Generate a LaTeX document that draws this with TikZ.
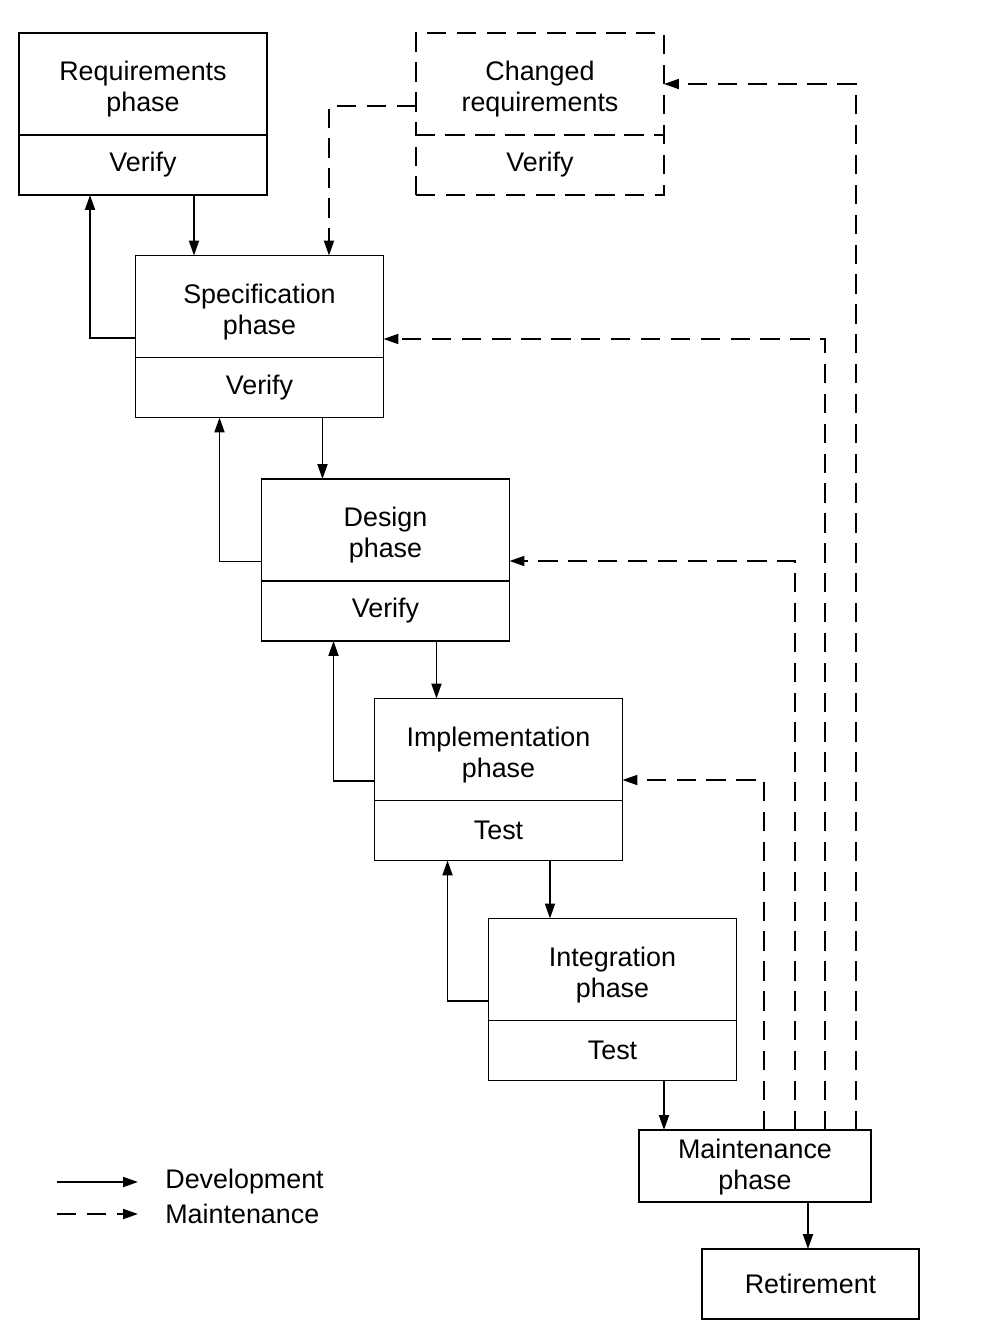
\documentclass[tikz,border=0pt]{standalone}
\usepackage{fontspec}
\setmainfont{Liberation Sans}
\usetikzlibrary{arrows.meta,positioning,calc}
% two centred lines, set a little below the middle of the box
\newcommand{\twolines}[3][-0.12cm]{\raisebox{#1}[\height][\depth]{\begin{tabular}{@{}c@{}}#2\\#3\end{tabular}}}

\begin{document}
\begin{tikzpicture}[x=0.02cm, y=-0.02cm,
  font=\fontsize{15.3pt}{17.6pt}\selectfont,
  phasebox/.style={rectangle, draw, line width=1.1pt, outer sep=0pt, minimum width=4.96cm, minimum height=2.04cm, align=center, inner sep=0pt},
  checkbox/.style={rectangle, draw, line width=1.1pt, outer sep=0pt, minimum width=4.96cm, minimum height=1.2cm, align=center, inner sep=0pt},
  changed/.style={dash pattern=on 11pt off 6pt},
  dev/.style={-{Triangle[length=0.3cm,width=0.2cm]}, line width=1.1pt},
  mnt/.style={dev, dash pattern=on 11pt off 6pt}
]
  \useasboundingbox (0,0) rectangle (1002,1323);
  % waterfall phases
  \node[phasebox] (req) at (143,84) {\twolines{Requirements}{phase}};
  \node[checkbox, below=0pt of req] (req-v) {Verify};
  \node[phasebox, changed] (chg) at (540,84) {\twolines{Changed}{requirements}};
  \node[checkbox, changed, below=0pt of chg] (chg-v) {Verify};
  \node[phasebox] (spec) at (259.5,306.5) {\twolines{Specification}{phase}};
  \node[checkbox, below=0pt of spec] (spec-v) {Verify};
  \node[phasebox] (des) at (385.5,530) {\twolines{Design}{phase}};
  \node[checkbox, below=0pt of des] (des-v) {Verify};
  \node[phasebox] (imp) at (498.5,749.5) {\twolines{Implementation}{phase}};
  \node[checkbox, below=0pt of imp] (imp-v) {Test};
  \node[phasebox] (int) at (612.5,969.5) {\twolines{Integration}{phase}};
  \node[checkbox, below=0pt of int] (int-v) {Test};
  \node[phasebox, minimum width=4.64cm, minimum height=1.44cm] (mnt) at (755,1166) {\twolines[-0.04cm]{Maintenance}{phase}};
  \node[phasebox, minimum width=4.34cm, minimum height=1.4cm] (ret) at (810.5,1284) {Retirement};
  % development flow
  \foreach \a/\b/\dn/\up in {req/spec/1.02/-1.06, spec/des/1.26/-0.8, des/imp/1.02/-1.04, imp/int/1.03/-1.02}{
    \draw[dev] ([xshift=\dn cm]\a-v.south) -- ([xshift=\dn cm]\a-v.south |- \b.north);
    \draw[dev] ([yshift=-0.63cm]\b.west) -| ([xshift=\up cm]\a-v.south);
  }
  \draw[dev] ([xshift=1.03cm]int-v.south) -- ([xshift=1.03cm]int-v.south |- mnt.north);
  \draw[dev] ([xshift=1.06cm]mnt.south) -- ([xshift=1.06cm]mnt.south |- ret.north);
  % maintenance flow
  \draw[mnt] ([yshift=-0.44cm]chg.west) -| ([xshift=1.39cm]spec.north);
  \draw[mnt] ([xshift=2.02cm]mnt.north) |- (chg.east);
  \draw[mnt] ([xshift=1.4cm]mnt.north) |- ([yshift=-0.65cm]spec.east);
  \draw[mnt] ([xshift=0.8cm]mnt.north) |- ([yshift=-0.62cm]des.east);
  \draw[mnt] ([xshift=0.18cm]mnt.north) |- ([yshift=-0.61cm]imp.east);
  % legend
  \node[anchor=west, inner sep=0pt] (ldev) at (165,1182) {Development};
  \node[anchor=west, inner sep=0pt] (lmnt) at (165,1214) {Maintenance};
  \draw[dev] ([xshift=-2.16cm]ldev.west) -- ([xshift=-0.54cm]ldev.west);
  \draw[mnt] ([xshift=-2.16cm]lmnt.west) -- ([xshift=-0.54cm]lmnt.west);
\end{tikzpicture}
\end{document}
